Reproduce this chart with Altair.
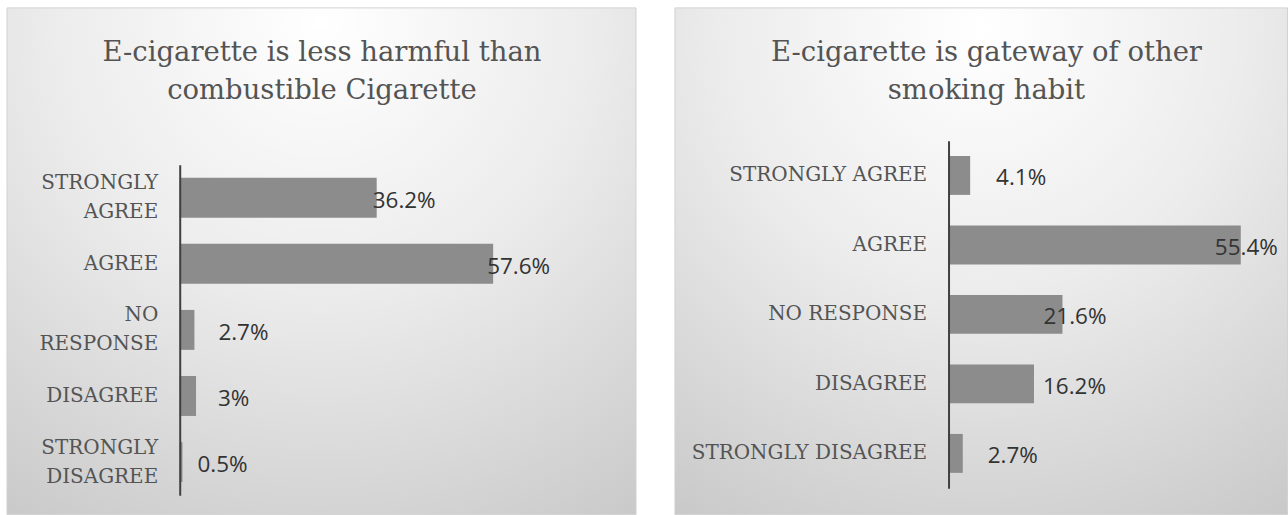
import altair as alt
import pandas as pd

# ---- data ----
categories = ["STRONGLY AGREE", "AGREE", "NO RESPONSE", "DISAGREE", "STRONGLY DISAGREE"]

left_title = ["E-cigarette is less harmful than", "combustible Cigarette"]
left_values = [36.2, 57.6, 2.7, 3.0, 0.5]
left_labels = ["36.2%", "57.6%", "2.7%", "3%", "0.5%"]

right_title = ["E-cigarette is gateway of other", "smoking habit"]
right_values = [4.1, 55.4, 21.6, 16.2, 2.7]
right_labels = ["4.1%", "55.4%", "21.6%", "16.2%", "2.7%"]

# label nudges in pixels from each bar end (style, as placed in the reference)
left_nudge = [-4, -6, 24, 22, 15]
right_nudge = [26, -26, -19, 9, 25]

BAR = "#8c8c8c"
AXIS = "#404040"
TEXT = "#545454"
LABEL = "#333333"

gradient = alt.RadialGradient(
    gradient="radial",
    x1=0.5, y1=0.12, r1=0.0,
    x2=0.5, y2=0.12, r2=0.95,
    stops=[
        alt.GradientStop(offset=0.0, color="#ffffff"),
        alt.GradientStop(offset=0.45, color="#ececec"),
        alt.GradientStop(offset=1.0, color="#c8c8c8"),
    ],
)

SINGLE = "(datum.value == 'AGREE' || datum.value == 'DISAGREE')"


def panel(values, labels, nudge, title, width, height, xmax, p_in, p_out,
          y_range, rect, title_xy, wrap):
    df = pd.DataFrame({"cat": categories, "value": values,
                       "label": labels, "nudge": nudge})
    one = pd.DataFrame({"k": [0]})

    axis_kw = dict(title=None, ticks=False, domainColor=AXIS, domainWidth=2,
                   labelFont="DejaVu Serif", labelFontSize=20,
                   labelColor=TEXT, labelPadding=22, labelLineHeight=29,
                   labelLimit=400, zindex=1)
    if wrap:
        axis_kw["labelExpr"] = (
            "(datum.label == 'AGREE' || datum.label == 'DISAGREE') "
            "? datum.label : split(datum.label, ' ')")
        axis_kw["labelOffset"] = {"condition": {"test": SINGLE, "value": 0},
                                  "value": -14.5}

    if y_range is not None:
        yscale = alt.Scale(paddingInner=p_in, paddingOuter=p_out, range=y_range)
    else:
        yscale = alt.Scale(paddingInner=p_in, paddingOuter=p_out)

    y = alt.Y("cat:N", sort=categories, scale=yscale, axis=alt.Axis(**axis_kw))
    x = alt.X("value:Q", scale=alt.Scale(domain=[0, xmax]), axis=None)
    xl = alt.X("lx:Q", scale=alt.Scale(domain=[0, xmax]), axis=None)

    bg = alt.Chart(one).mark_rect(
        fill=gradient, stroke="#d2d2d2", strokeWidth=1
    ).encode(
        x=alt.value(rect[0]), x2=alt.value(rect[1]),
        y=alt.value(rect[2]), y2=alt.value(rect[3]),
    )

    ttl = alt.Chart(one).mark_text(
        align="center", baseline="alphabetic", font="DejaVu Serif",
        fontSize=27.5, color=TEXT, lineHeight=38,
    ).encode(
        x=alt.value(title_xy[0]), y=alt.value(title_xy[1]),
        text=alt.value(title),
    )

    bars = alt.Chart(df).mark_bar(color=BAR).encode(x=x, y=y)

    per_px = xmax / width
    txt = alt.Chart(df).transform_calculate(
        lx=f"datum.value + datum.nudge * {per_px}"
    ).mark_text(
        align="left", baseline="middle", dy=3, font="Open Sans",
        fontSize=22.5, color=LABEL,
    ).encode(x=xl, y=y, text="label:N")

    return alt.layer(bg, ttl, bars, txt).properties(width=width, height=height)


left = panel(left_values, left_labels, left_nudge, left_title,
             width=436, height=355, xmax=80, p_in=0.396, p_out=0.198,
             y_range=[24, 355],
             rect=(-173, 457, -133, 374.5), title_xy=(142.5, -80), wrap=True)

right = panel(right_values, right_labels, right_nudge, right_title,
              width=317, height=348, xmax=60, p_in=0.44, p_out=0.22,
              y_range=None,
              rect=(-274, 339.5, -133, 374.5), title_xy=(38, -80), wrap=False)

chart = alt.hconcat(left, right, spacing=37).properties(
    padding={"left": 6, "top": 6.5, "right": 0, "bottom": 0}
).configure_view(stroke=None)

chart.save("out.html", embed_options={"renderer": "svg", "actions": False})
